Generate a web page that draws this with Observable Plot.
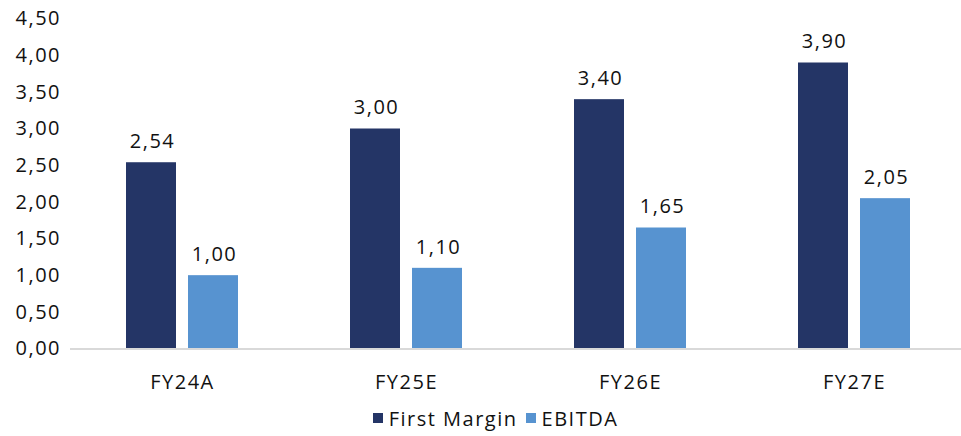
<!DOCTYPE html>
<html><head><meta charset="utf-8">
<script src="https://cdn.jsdelivr.net/npm/d3@7"></script>
<script src="https://cdn.jsdelivr.net/npm/@observablehq/plot@0.6"></script>
<style>
body{margin:0;background:#fff;font-family:"Open Sans",sans-serif;}
#legend{height:36px;display:flex;justify-content:center;align-items:center;font-size:20px;letter-spacing:1.5px;color:#111;padding-left:30px;}
#legend .item{display:flex;align-items:center;margin:0 4px;}
#legend .sw{width:10px;height:10px;margin-right:6px;}
</style>
</head><body><div id="chart"></div><div id="legend"></div><script>
const categories = ["FY24A","FY25E","FY26E","FY27E"];
const series = ["First Margin","EBITDA"];
const firstMargin = [2.54, 3.00, 3.40, 3.90];
const ebitda = [1.00, 1.10, 1.65, 2.05];
const yTicks = [0, 0.5, 1, 1.5, 2, 2.5, 3, 3.5, 4, 4.5];
const colors = ["#243566", "#5793D0"];

const data = categories.flatMap((c, i) => [
  {category: c, series: series[0], value: firstMargin[i]},
  {category: c, series: series[1], value: ebitda[i]}
]);
const fmt = v => v.toFixed(2).replace(".", ",");

const plot = Plot.plot({
  width: 961, height: 400,
  marginLeft: 70, marginRight: -5, marginTop: 18.5, marginBottom: 51.5,
  style: {fontFamily: "'Open Sans', sans-serif", fontSize: "20px", letterSpacing: "1.5px", color: "#111", background: "#fff"},
  fx: {domain: categories, padding: 0, label: null, axis: "bottom", tickSize: 0, tickPadding: 26},
  x: {domain: series, paddingInner: 0.19, paddingOuter: 0.873, axis: null},
  y: {domain: [0, 4.5], ticks: yTicks, tickFormat: fmt, tickSize: 0, tickPadding: 9.5, label: null},
  color: {domain: series, range: colors},
  marks: [
    Plot.barY(data, {fx: "category", x: "series", y: "value", fill: "series"}),
    Plot.ruleY([0], {stroke: "#d9d9d9", strokeWidth: 2}),
    Plot.text(data, {fx: "category", x: "series", y: "value", text: d => fmt(d.value), dy: -21, dx: 1, fontSize: 20, fill: "#111"})
  ]
});
document.getElementById("chart").appendChild(plot);

const legend = document.getElementById("legend");
series.forEach((s, i) => {
  const item = document.createElement("div");
  item.className = "item";
  item.innerHTML = `<span class="sw" style="background:${colors[i]}"></span><span>${s}</span>`;
  legend.appendChild(item);
});
</script></body></html>
